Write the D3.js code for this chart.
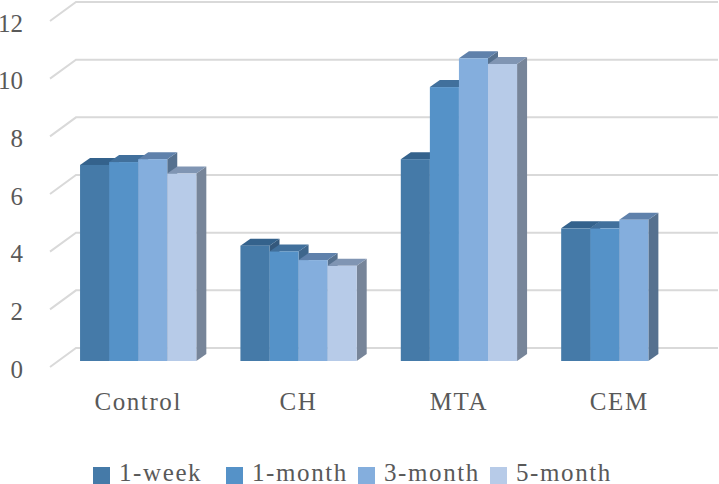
<!DOCTYPE html>
<html>
<head>
<meta charset="utf-8">
<script src="https://cdn.jsdelivr.net/npm/d3@7/dist/d3.min.js"></script>
<style>
html,body{margin:0;padding:0;background:#fff;overflow:hidden}
text{font-family:"Liberation Serif",serif;fill:#595959}
</style>
</head>
<body>
<svg id="chart" width="719" height="484"></svg>
<script>
const categories = ["Control","CH","MTA","CEM"];
const seriesNames = ["1-week","1-month","3-month","5-month"];
const week1 = [6.8,4.0,7.0,4.6];
const month1 = [6.9,3.8,9.5,4.6];
const month3 = [7.0,3.5,10.5,4.9];
const month5 = [6.5,3.3,10.3,null];
const seriesValues = [week1,month1,month3,month5];
const yTicks = [0,2,4,6,8,10,12];
const frontColors = ["#457aa8","#5592c8","#84aedd","#b7cbe8"];
const topColors = ["#34628c","#41709c","#5f81ab","#8095b3"];
const sideColors = ["#34587c","#3e668c","#56718f","#778599"];

const svg = d3.select("#chart");
const dx = 10, dy = -7;
const y = d3.scaleLinear().domain([0,12]).range([361,15]);
const x0 = d3.scaleBand().domain(categories).range([58,699.5]).paddingInner(0.275).paddingOuter(0.1375);
const x1 = d3.scaleBand().domain(seriesNames).range([0,x0.bandwidth()]);

// walls: gridlines on back wall + floor lines
const grid = svg.append("g").selectAll("g").data(yTicks).join("g");
const wallOff = -13;
grid.append("path")
  .attr("d", d => `M50,${y(d)+6}L76,${y(d)+wallOff}L718,${y(d)+wallOff}`)
  .attr("fill","none").attr("stroke","#d9d9d9").attr("stroke-width",2);

// y axis labels
const yAxis = d3.axisLeft(y).tickValues(yTicks).tickSize(0).tickPadding(0);
svg.append("g").attr("transform","translate(23,8)").call(yAxis)
  .call(g=>g.select(".domain").remove())
  .selectAll("text").attr("font-size",25).style("font-family",'"Liberation Serif",serif').style("fill","#595959");

// bars
categories.forEach((c,ci)=>{
  const g = svg.append("g");
  seriesNames.forEach((s,si)=>{
    const v = seriesValues[si][ci];
    if(v===null) return;
    const xl = x0(c)+x1(s), w = x1.bandwidth(), yt = y(v), yb = y(0);
    g.append("path").attr("fill",sideColors[si])
      .attr("d",`M${xl+w},${yt}L${xl+w+dx},${yt+dy}L${xl+w+dx},${yb+dy}L${xl+w},${yb}Z`);
    g.append("path").attr("fill",topColors[si])
      .attr("d",`M${xl},${yt}L${xl+dx},${yt+dy}L${xl+w+dx},${yt+dy}L${xl+w},${yt}Z`);
    g.append("rect").attr("fill",frontColors[si])
      .attr("x",xl).attr("y",yt).attr("width",w).attr("height",yb-yt);
  });
});

// category axis
const xAxis = d3.axisBottom(x0).tickSize(0).tickPadding(0);
svg.append("g").attr("transform","translate(0,392)").call(xAxis)
  .call(g=>g.select(".domain").remove())
  .selectAll("text").attr("font-size",25).attr("letter-spacing",1.6).style("font-family",'"Liberation Serif",serif').style("fill","#595959");

// legend
const legendX = d3.scaleOrdinal().domain(seriesNames).range([93,226,358,490]);
const lg = svg.append("g").selectAll("g").data(seriesNames).join("g")
  .attr("transform",d=>`translate(${legendX(d)},0)`);
lg.append("rect").attr("y",467).attr("width",17).attr("height",17)
  .attr("fill",(d,i)=>frontColors[i]);
lg.append("text").attr("x",26).attr("y",481).attr("font-size",25).attr("letter-spacing",1.6).text(d=>d);
</script>
</body>
</html>
